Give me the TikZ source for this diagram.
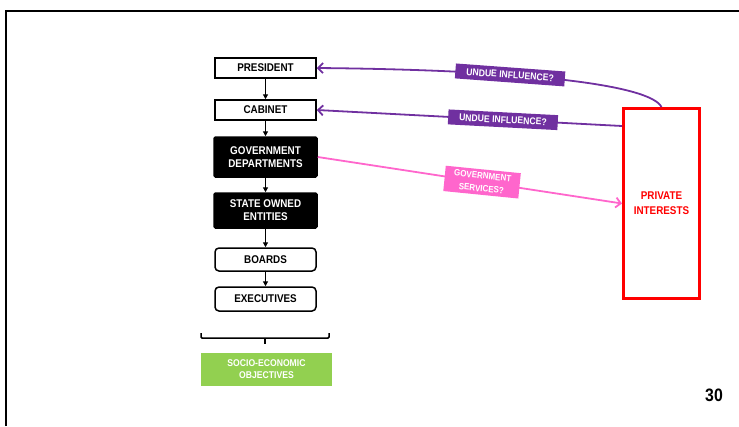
\documentclass[tikz,border=0pt]{standalone}
\usepackage{fontspec}
\setmainfont{Liberation Sans}[FakeStretch=0.88]
\usetikzlibrary{arrows.meta}
\definecolor{undue}{HTML}{7030A0}
\definecolor{services}{HTML}{FF66CC}
\definecolor{goalgreen}{HTML}{92D050}
\begin{document}
\begin{tikzpicture}[x=1pt, y=-1pt, node distance=42pt, box/.style={rectangle, draw, line width=1.5pt, minimum width=101pt, minimum height=20pt, inner sep=1pt, align=center, font=\fontsize{11.2}{13}\selectfont\bfseries}, darkbox/.style={box, fill=black, text=white, rounded corners=1.5pt, minimum width=103pt}, roundbox/.style={box, rounded corners=4pt}, tag/.style={rectangle, fill=undue, text=white, inner xsep=11pt, inner ysep=4pt, sloped, font=\fontsize{9.8}{11}\selectfont\bfseries}, flow/.style={-{Triangle[length=5pt, width=5pt]}, line width=1.4pt}, pull/.style={-{Straight Barb[length=5pt, width=10pt]}, line width=1.8pt}]

  \useasboundingbox (0,0) rectangle (739,426);
  \draw[line width=1.5pt] (6,426) -- (6,11) -- (739,11);

  \node[box] (pres) at (265.5,68) {PRESIDENT};
  \node[box, below of=pres] (cab) {CABINET};
  \node[darkbox, below of=cab, node distance=47pt, minimum height=40pt] (govdep) {GOVERNMENT\\DEPARTMENTS};
  \node[darkbox, below of=govdep, node distance=53.5pt, minimum height=35pt] (soe) {STATE OWNED\\ENTITIES};
  \node[roundbox, below of=soe, node distance=49pt, minimum height=23pt] (boards) {BOARDS};
  \node[roundbox, below of=boards, node distance=39.5pt, minimum height=24pt] (exec) {EXECUTIVES};
  \node[rectangle, fill=goalgreen, text=white, minimum width=131pt, minimum height=33pt, align=center, font=\fontsize{9.8}{12}\selectfont\bfseries, below of=exec, node distance=70.5pt, xshift=1pt] (goal) {SOCIO-ECONOMIC\\OBJECTIVES};

  \node[draw=red, line width=3pt, minimum width=76pt, minimum height=190pt, text=red, align=center, font=\fontsize{11.2}{15}\selectfont\bfseries] (pi) at (661.5,203.5) {PRIVATE\\INTERESTS};

  \node[font=\fontsize{18}{18}\selectfont\bfseries] (pagenum) at (714,395) {30};

  \draw[flow] (pres) -- (cab);
  \draw[flow] (cab) -- (govdep);
  \draw[flow] (govdep) -- (soe);
  \draw[flow] (soe) -- (boards);
  \draw[flow] (boards) -- (exec);

  % bracket above the objectives
  \draw[line width=1.5pt, rounded corners=1pt] (201,333) -- (201,338) -- (329,338) -- (329,333);
  \draw[line width=1.5pt] (265,338) -- (265,344);

  \draw[pull, undue] (pi.north) .. controls (650,85) and (530,70) .. (pres.east) node[tag, pos=0.64] {UNDUE INFLUENCE?};
  \draw[pull, undue] ([yshift=-19pt]pi.north west) -- node[tag, pos=0.39] {UNDUE INFLUENCE?} (cab.east);
  \draw[pull, services] (govdep.east) -- node[tag, fill=services, align=center, inner xsep=9pt, inner ysep=3pt, rotate=3, font=\fontsize{9.1}{13}\selectfont\bfseries, pos=0.54] {GOVERNMENT\\SERVICES?} (pi.west);
\end{tikzpicture}
\end{document}
